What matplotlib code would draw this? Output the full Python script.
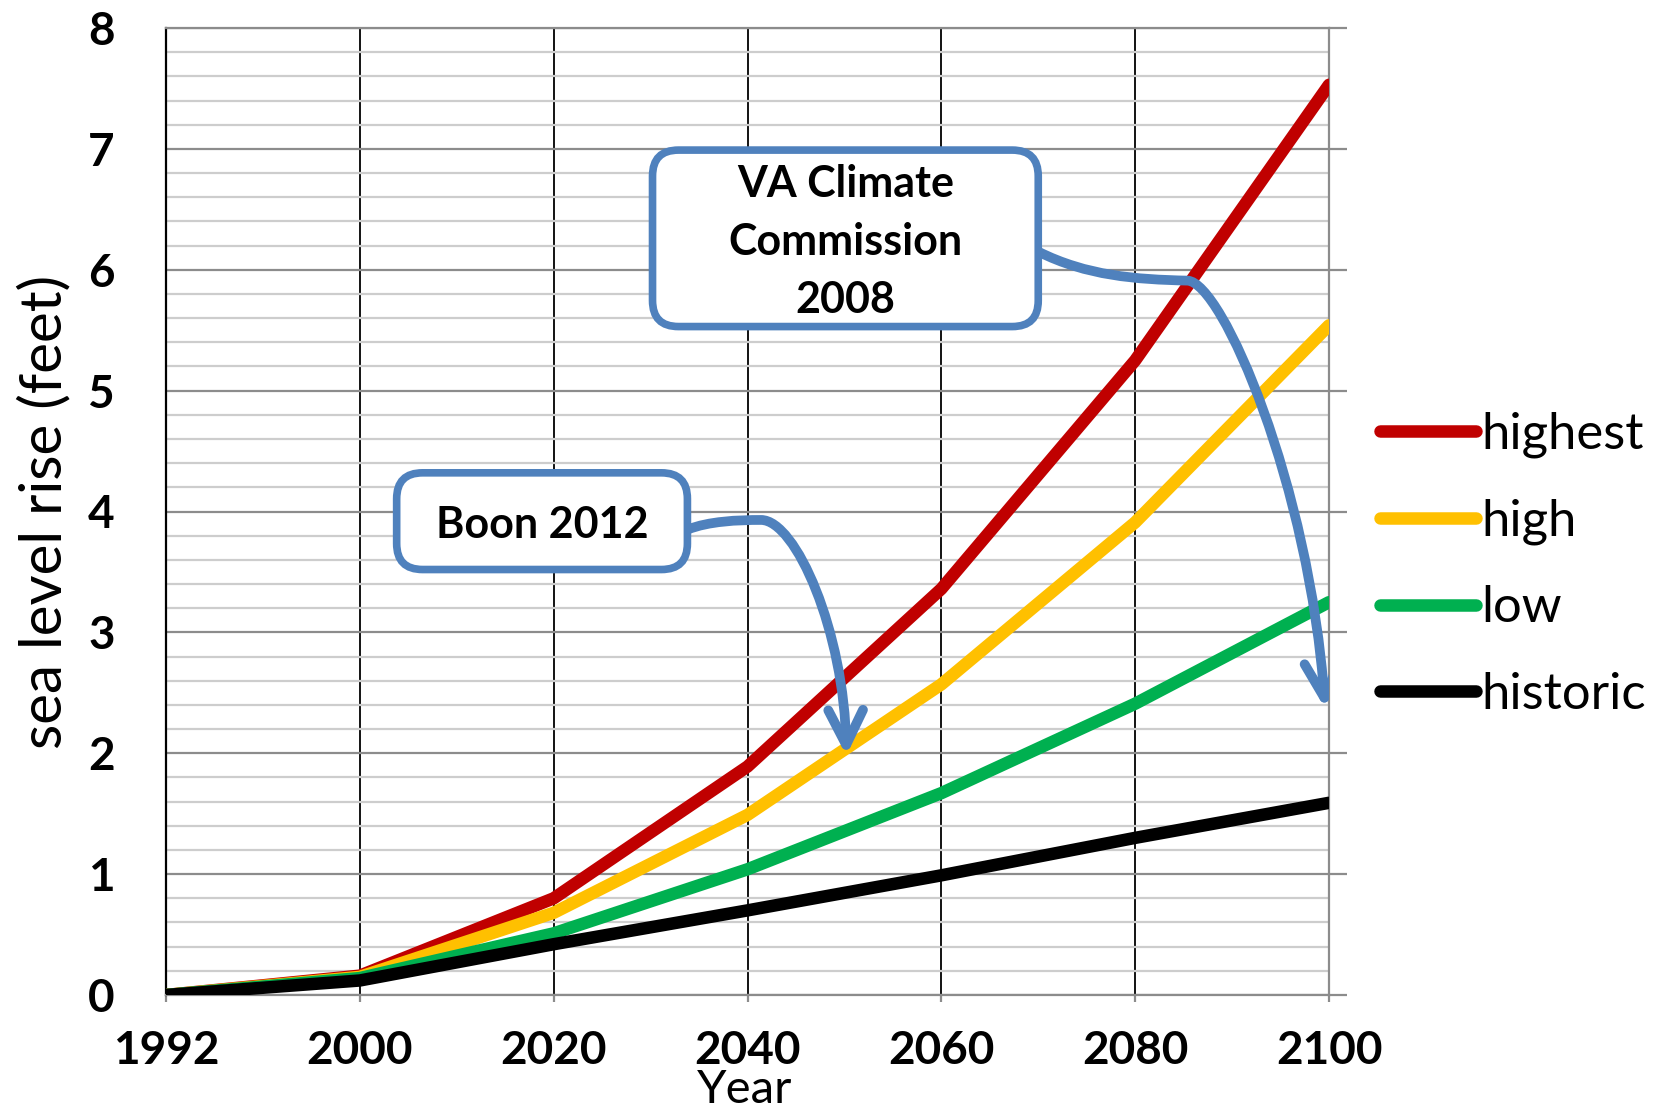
import numpy as np
import matplotlib
matplotlib.use("Agg")
import matplotlib.pyplot as plt
from matplotlib.patches import FancyBboxPatch, FancyArrowPatch
from matplotlib.path import Path
from matplotlib.ticker import MultipleLocator

plt.rcParams['font.family'] = ['Lato', 'DejaVu Sans']

# sea level rise scenarios (feet)
years = ["1992", "2000", "2020", "2040", "2060", "2080", "2100"]
highest = [0.0, 0.16, 0.80, 1.89, 3.36, 5.25, 7.53]
high = [0.0, 0.15, 0.68, 1.49, 2.57, 3.91, 5.54]
low = [0.0, 0.14, 0.51, 1.04, 1.67, 2.41, 3.25]
historic = [0.0, 0.12, 0.42, 0.70, 0.99, 1.30, 1.59]

series = [("highest", highest, "#C00000"),
          ("high", high, "#FFC000"),
          ("low", low, "#00B050"),
          ("historic", historic, "#000000")]

W, H = 1662, 1109
fig = plt.figure(figsize=(W / 100, H / 100), dpi=100)
ax = fig.add_axes([166 / W, 1 - 995 / H, (1329 - 166) / W, (995 - 28) / H])

x = np.arange(len(years))
for name, vals, col in series:
    ax.plot(x, vals, color=col, lw=9, label=name, solid_capstyle='round',
            solid_joinstyle='round', zorder=3)

ax.set_xlim(0, len(years) - 1)
ax.set_ylim(0, 8)
ax.set_xticks(x)
ax.set_xticklabels(years)
ax.yaxis.set_major_locator(MultipleLocator(1))
ax.yaxis.set_minor_locator(MultipleLocator(0.2))

ax.grid(axis='x', color='black', lw=1.3, zorder=1)
ax.grid(axis='y', which='major', color='#8c8c8c', lw=1.6, zorder=1)
ax.grid(axis='y', which='minor', color='#cdcdcd', lw=1.6, zorder=1)
ax.set_axisbelow(True)

for side in ['top', 'right', 'bottom']:
    ax.spines[side].set_color('#8c8c8c')
    ax.spines[side].set_linewidth(1.6)
ax.spines['left'].set_color('black')
ax.spines['left'].set_linewidth(1.6)

ax.tick_params(axis='y', which='major', left=False, right=True, length=13,
               width=1.6, color='#8c8c8c', labelleft=True, labelright=False,
               pad=24, labelsize=33)
ax.tick_params(axis='y', which='minor', left=False, right=False)
ax.tick_params(axis='x', length=5, width=1.6, color='#8c8c8c', pad=20, labelsize=33)
for lab in ax.get_xticklabels() + ax.get_yticklabels():
    lab.set_fontweight('bold')

ax.set_ylabel("sea level rise (feet)", fontsize=42, va='center')
ax.yaxis.set_label_coords(-0.104, 0.5)
fig.text(745 / W, 1 - 1090 / H, "Year", fontsize=34, ha='center', va='center')

ax.legend(loc='center left', bbox_to_anchor=(1.044, 0.445), frameon=False,
          fontsize=36.5, handlelength=1.9, handletextpad=0.1, labelspacing=0.8,
          borderpad=0, borderaxespad=0)

# callout boxes with curved arrows
ax_w = ax.get_position().width * W
ax_h = ax.get_position().height * H
ux = 6 / ax_w
uy = 8 / ax_h
blue = '#4F81BD'


def callout(x0, y0, x1, y1, text):
    box = FancyBboxPatch((x0, y0), x1 - x0, y1 - y0,
                         boxstyle="round,pad=0,rounding_size=%f" % (26 * ux),
                         mutation_aspect=uy / ux, fc='white', ec=blue, lw=5.5,
                         zorder=5)
    ax.add_patch(box)
    ax.text((x0 + x1) / 2, (y0 + y1) / 2 - 4 * uy, text, ha='center', va='center',
            fontsize=31, fontweight='bold', linespacing=1.55, zorder=6)


def curved_arrow(verts):
    codes = [Path.MOVETO] + [Path.CURVE4] * (len(verts) - 1)
    arr = FancyArrowPatch(path=Path(verts, codes),
                          arrowstyle='->,head_length=1.0,head_width=0.5',
                          mutation_scale=25, color=blue, linewidth=7,
                          capstyle='round', joinstyle='round', zorder=4)
    ax.add_patch(arr)


curved_arrow([(4.50, 6.15), (4.75, 5.95), (5.00, 5.92), (5.27, 5.91),
              (5.45, 5.90), (5.90, 4.20), (5.98, 2.37)])
curved_arrow([(2.69, 3.85), (2.80, 3.92), (2.95, 3.93), (3.07, 3.93),
              (3.25, 3.93), (3.50, 3.00), (3.51, 1.98)])

callout(2.51, 5.53, 4.50, 6.99, "VA Climate\nCommission\n2008")
callout(1.19, 3.52, 2.69, 4.32, "Boon 2012")

fig.savefig("out.png", dpi=100)
